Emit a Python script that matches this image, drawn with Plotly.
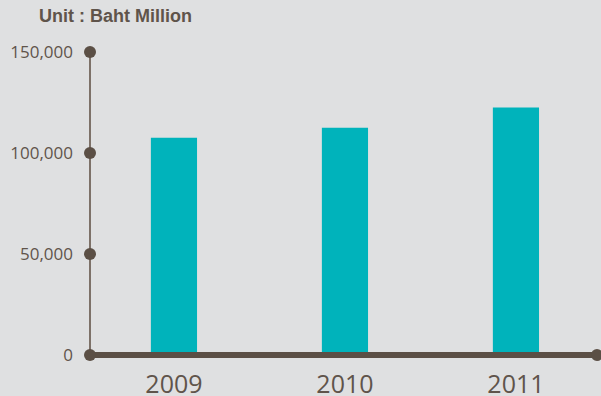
import plotly.graph_objects as go

# Annual figures, Baht million
years = ["2009", "2010", "2011"]
values = [107500, 112500, 122500]
y_ticks = [0, 50000, 100000, 150000]
y_tick_labels = ["0", "50,000", "100,000", "150,000"]

BG = "#dfe0e1"
BAR = "#00b3bb"
AXIS_DARK = "#5b4f45"
AXIS_LIGHT = "#7d7168"
TEXT = "#5f544b"

# a little padding around the value range so the end dots are not clipped
pad = 8 * 150000 / 303

fig = go.Figure()
fig.add_trace(go.Bar(
    x=years, y=values, marker=dict(color=BAR, line=dict(width=0)),
    width=0.27, hoverinfo="skip",
))

shapes = [
    # vertical value axis
    dict(type="line", xref="paper", yref="y", x0=0, x1=0, y0=0, y1=y_ticks[-1],
         line=dict(color=AXIS_LIGHT, width=2), layer="above"),
    # heavy baseline
    dict(type="line", xref="paper", yref="y", x0=0, x1=1, y0=0, y1=0,
         line=dict(color=AXIS_DARK, width=6), layer="above"),
]
# dots on each value tick
for t in y_ticks:
    shapes.append(dict(type="circle", xref="paper", yref="y",
                       xsizemode="pixel", ysizemode="pixel",
                       xanchor=0, yanchor=t, x0=-6, x1=6, y0=-6, y1=6,
                       fillcolor=AXIS_DARK, line=dict(width=0), layer="above"))
# dot at the right end of the baseline
shapes.append(dict(type="circle", xref="paper", yref="y",
                   xsizemode="pixel", ysizemode="pixel",
                   xanchor=1, yanchor=0, x0=-6, x1=6, y0=-6, y1=6,
                   fillcolor=AXIS_DARK, line=dict(width=0), layer="above"))

fig.update_layout(
    width=601, height=396,
    margin=dict(l=90, r=4, t=44, b=33, autoexpand=False),
    paper_bgcolor=BG, plot_bgcolor=BG,
    showlegend=False,
    shapes=shapes,
    xaxis=dict(
        type="category", range=[-0.491, 2.474], automargin=False,
        showgrid=False, zeroline=False, showline=False, ticks="",
        tickfont=dict(family="Open Sans", size=25, color=TEXT),
        ticklabelstandoff=4,
    ),
    yaxis=dict(
        range=[-pad, 150000 + pad], tickvals=y_ticks, ticktext=y_tick_labels,
        automargin=False,
        showgrid=False, zeroline=False, showline=False, ticks="",
        tickfont=dict(family="Open Sans", size=17, color=TEXT),
        ticklabelstandoff=16,
    ),
    annotations=[dict(
        text="<b>Unit : Baht Million</b>", xref="paper", yref="paper",
        x=-53 / 507, y=(363 - 16) / 319, xanchor="left", yanchor="middle",
        showarrow=False,
        font=dict(family="Liberation Sans", size=18, color=TEXT),
    )],
)

fig.write_html("out.html")
